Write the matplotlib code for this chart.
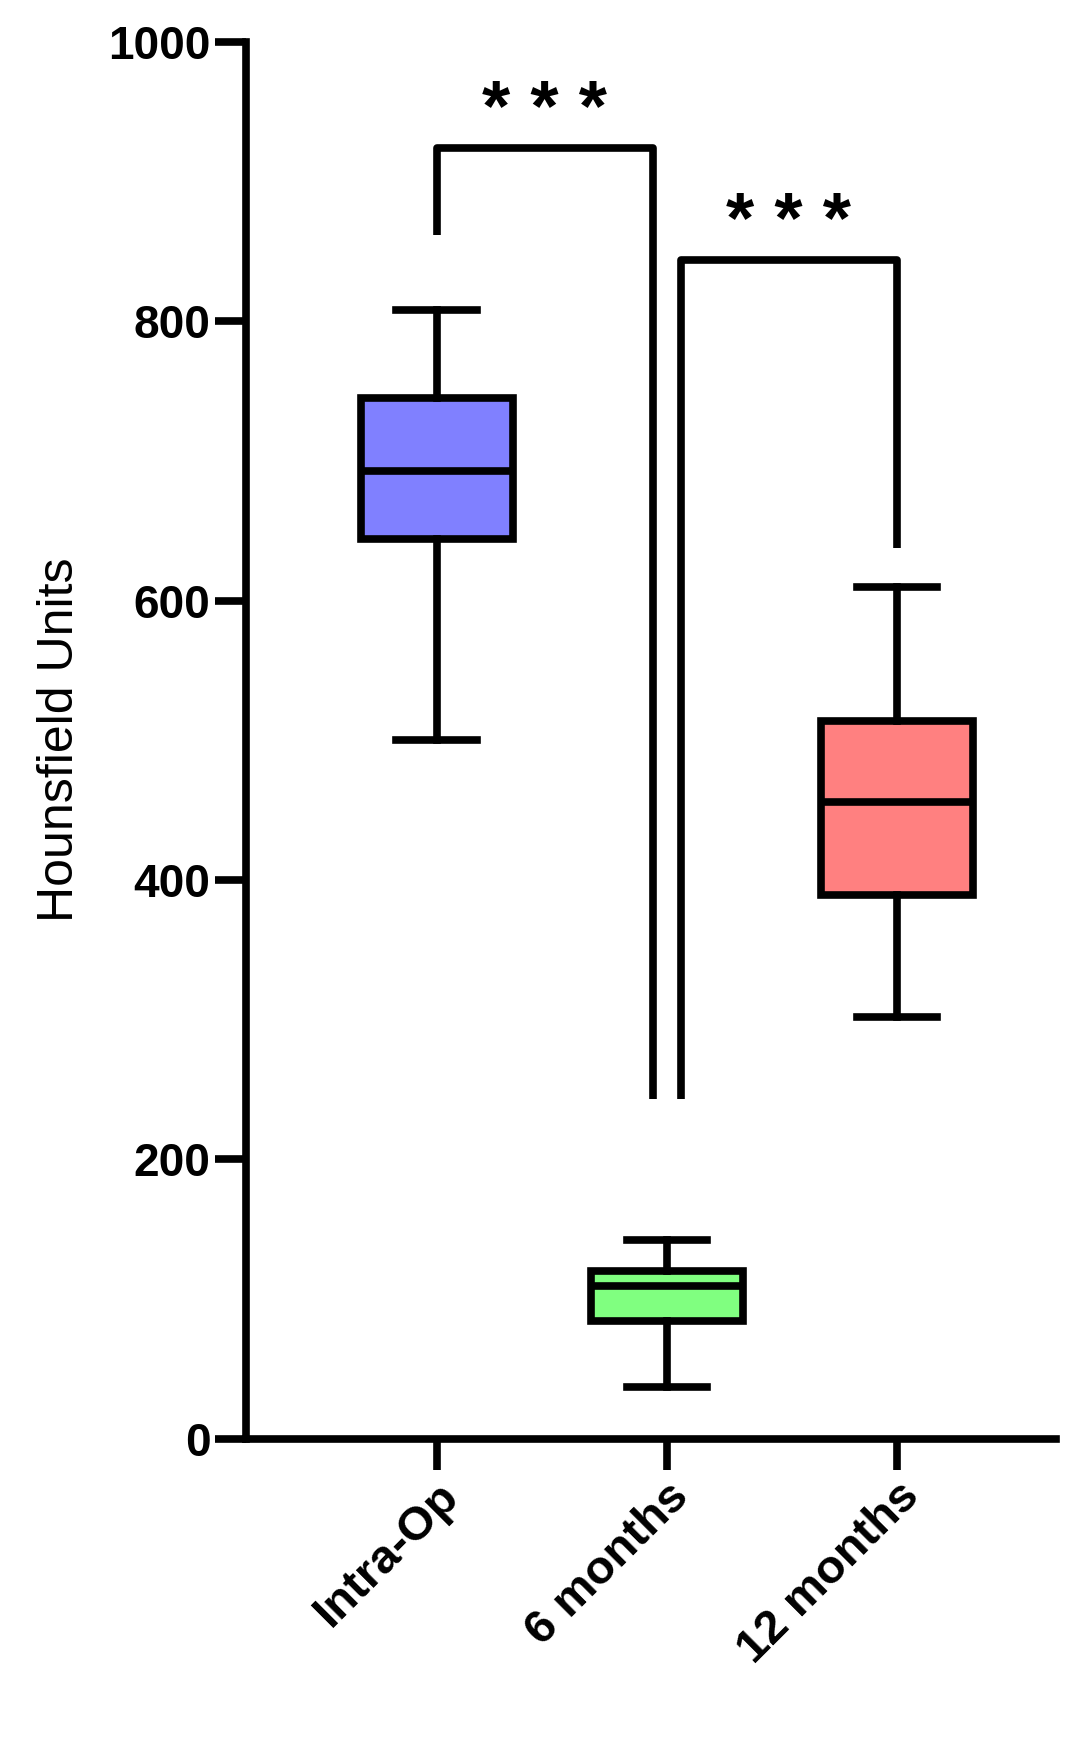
import matplotlib
matplotlib.use("Agg")
import matplotlib.pyplot as plt

categories = ["Intra-Op", "6 months", "12 months"]
whislo = [500, 37, 302]
q1 = [644, 84, 389]
med = [693, 109, 456]
q3 = [745, 120, 514]
whishi = [808, 142, 610]
colors = ["#8080FF", "#80FF80", "#FF8080"]

plt.rcParams['font.family'] = ['Arial', 'Liberation Sans', 'DejaVu Sans']
fig = plt.figure(figsize=(10.73, 17.5), dpi=100)
ax = fig.add_axes([0.229, 0.178, 0.755, 0.798])
lw = 5.5
stats = [dict(whislo=a, q1=b, med=c, q3=d, whishi=e, fliers=[], label=l)
         for a, b, c, d, e, l in zip(whislo, q1, med, q3, whishi, categories)]
bp = ax.bxp(stats, positions=[0, 1, 2], widths=0.66, patch_artist=True, showfliers=False,
            boxprops=dict(linewidth=lw), medianprops=dict(color='black', linewidth=lw),
            whiskerprops=dict(linewidth=lw), capprops=dict(linewidth=lw), capwidths=0.35)
for p, c in zip(bp['boxes'], colors):
    p.set_facecolor(c)
    p.set_edgecolor('black')

# significance brackets
ax.plot([0, 0, 0.94, 0.94], [862, 924, 924, 243], color='black', lw=lw, solid_capstyle='butt')
ax.plot([1.06, 1.06, 2, 2], [243, 844, 844, 638], color='black', lw=lw, solid_capstyle='butt')
ax.text(0.47, 950, "* * *", ha='center', va='center', fontsize=52, fontweight='bold')
ax.text(1.53, 870, "* * *", ha='center', va='center', fontsize=52, fontweight='bold')

ax.set_xlim(-0.83, 2.69)
ax.set_ylim(0, 1000)
ax.set_yticks([0, 200, 400, 600, 800, 1000])
ax.set_xticks([0, 1, 2])
ax.set_xticklabels(categories, rotation=45, ha='right', rotation_mode='anchor',
                   fontsize=34, fontweight='bold')
for t in ax.get_yticklabels():
    t.set_fontsize(33); t.set_fontweight('bold')
ax.tick_params(width=lw, length=22)
ax.set_ylabel("Hounsfield Units", fontsize=36, labelpad=18)
for s in ['top', 'right']:
    ax.spines[s].set_visible(False)
for s in ['left', 'bottom']:
    ax.spines[s].set_linewidth(lw)
fig.savefig("out.png", dpi=100)
